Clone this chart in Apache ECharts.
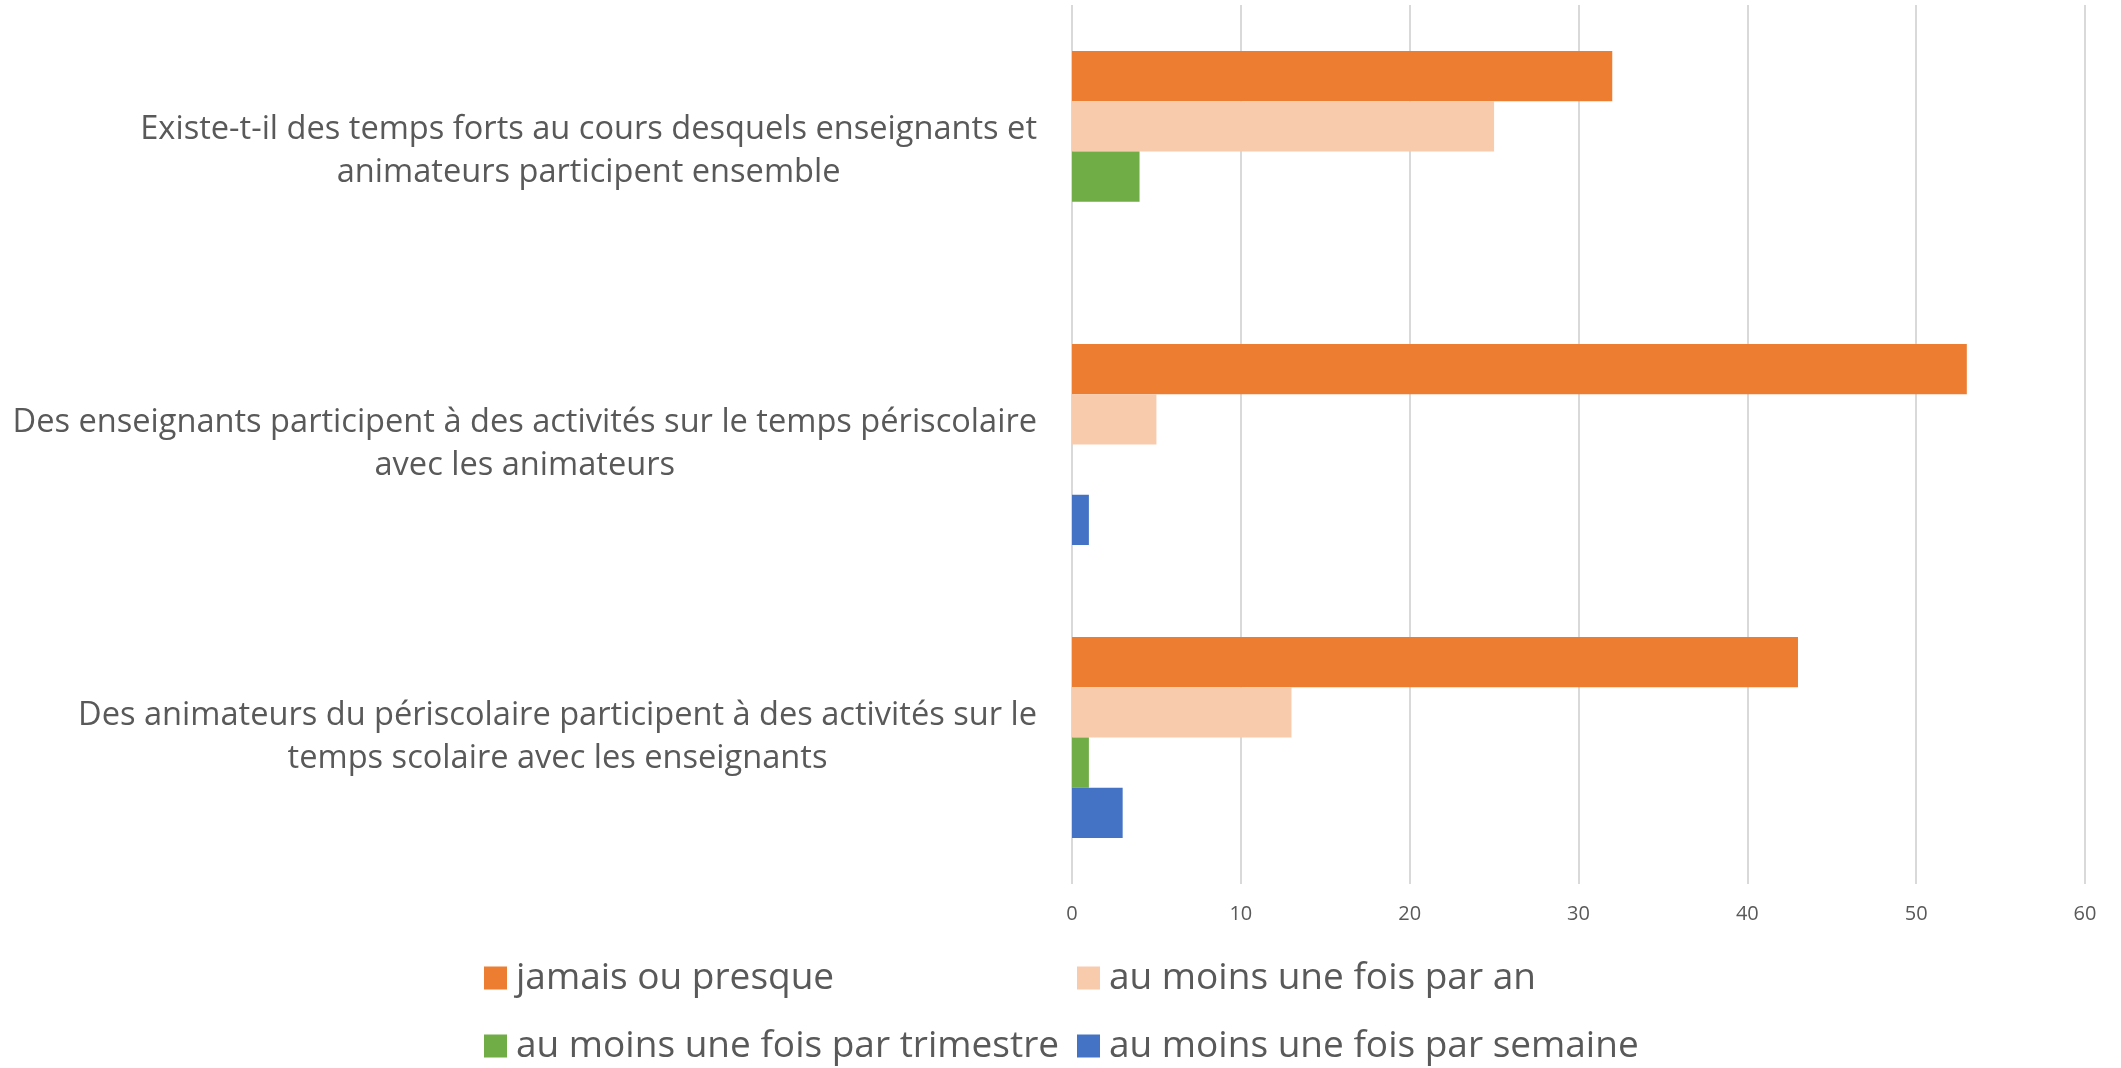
<!DOCTYPE html>
<html>
<head>
<meta charset="utf-8">
<script src="https://cdn.jsdelivr.net/npm/echarts@6/dist/echarts.min.js"></script>
<style>
  html, body { margin: 0; padding: 0; background: #fff; }
  #chart { width: 2121px; height: 1068px; }
</style>
</head>
<body>
<div id="chart"></div>
<script>
// categories, top to bottom
var categories = [
    'Existe-t-il des temps forts au cours desquels enseignants et\nanimateurs participent ensemble',
    'Des enseignants participent à des activités sur le temps périscolaire\navec les animateurs',
    'Des animateurs du périscolaire participent à des activités sur le\ntemps scolaire avec les enseignants'
];
var seriesNames = ['jamais ou presque', 'au moins une fois par an', 'au moins une fois par trimestre', 'au moins une fois par semaine'];
var jamais = [32, 53, 43];
var parAn = [25, 5, 13];
var parTrimestre = [4, 0, 1];
var parSemaine = [0, 1, 3];
var xTicks = [0, 10, 20, 30, 40, 50, 60];

var colors = ['#ED7D31', '#F8CBAD', '#70AD47', '#4472C4'];
var font = "'Open Sans', sans-serif";
var textColor = '#595959';

var myChart = echarts.init(document.getElementById('chart'));

function makeSeries(name, values, color) {
    return {
        name: name,
        type: 'bar',
        data: values,
        barGap: '0%',
        barCategoryGap: '31.4%',
        itemStyle: { color: color },
        animation: false
    };
}

function makeLegend(left, names) {
    return {
        orient: 'vertical',
        left: left,
        top: 958,
        height: 110,
        itemWidth: 23,
        itemHeight: 23,
        itemGap: 28,
        icon: 'rect',
        padding: 0,
        data: names,
        textStyle: { color: textColor, fontSize: 37, fontFamily: font, lineHeight: 40, padding: [0, 0, 0, 4] }
    };
}

var option = {
    color: colors,
    grid: { left: 1072, right: 36, top: 5, bottom: 184 },
    xAxis: {
        type: 'value',
        min: xTicks[0],
        max: xTicks[xTicks.length - 1],
        interval: 10,
        axisLine: { show: false },
        axisTick: { show: false },
        splitLine: { lineStyle: { color: '#d9d9d9', width: 2 } },
        axisLabel: { color: textColor, fontSize: 20, fontFamily: font, margin: 20 }
    },
    yAxis: {
        type: 'category',
        inverse: true,
        data: categories,
        axisLine: { show: false },
        axisTick: { show: false },
        axisLabel: {
            margin: 35,
            align: 'right',
            fontFamily: font,
            fontSize: 32.6,
            color: textColor,
            lineHeight: 43,
            formatter: function (v) {
                return v.split('\n').map(function (l) { return '{c|' + l + '}'; }).join('\n');
            },
            rich: {
                c: { align: 'center', fontFamily: font, fontSize: 32.6, color: textColor, lineHeight: 43 }
            }
        }
    },
    legend: [
        makeLegend(484, [seriesNames[0], seriesNames[2]]),
        makeLegend(1077, [seriesNames[1], seriesNames[3]])
    ],
    series: [
        makeSeries(seriesNames[0], jamais, colors[0]),
        makeSeries(seriesNames[1], parAn, colors[1]),
        makeSeries(seriesNames[2], parTrimestre, colors[2]),
        makeSeries(seriesNames[3], parSemaine, colors[3])
    ]
};
myChart.setOption(option);
</script>
</body>
</html>
